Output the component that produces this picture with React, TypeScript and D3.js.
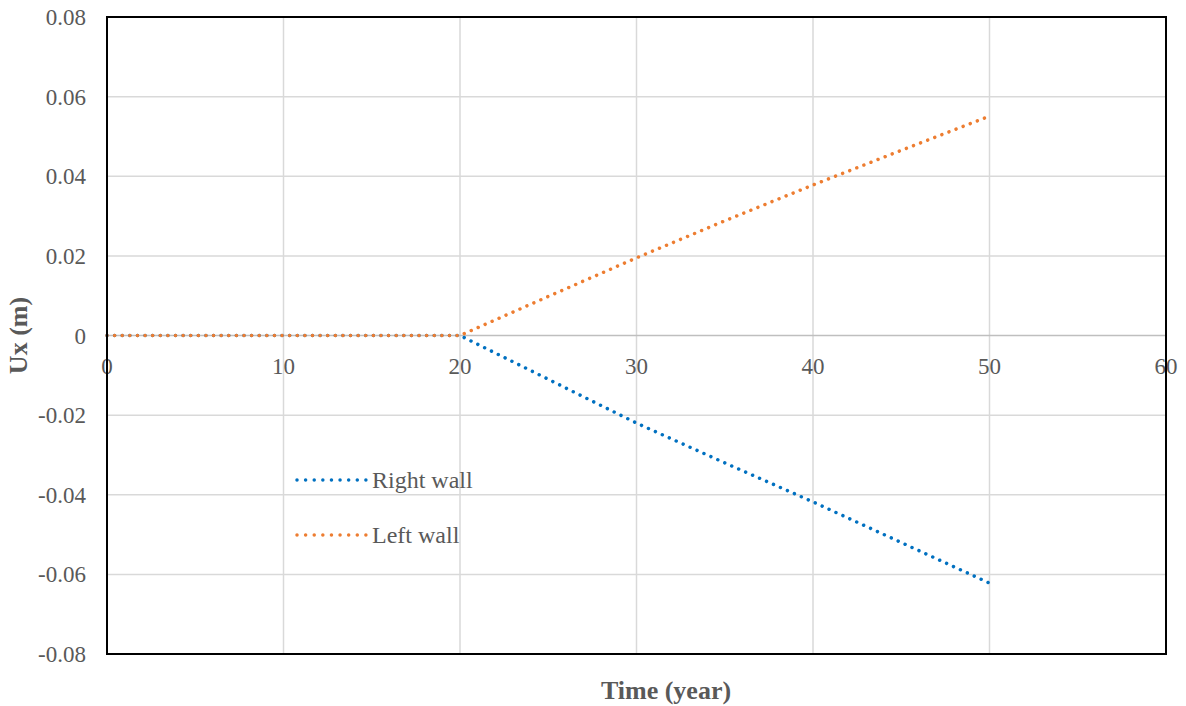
import { useEffect, useRef } from "react";
import * as d3 from "d3";

// time in years
const times = [0, 5, 10, 15, 20, 25, 30, 35, 40, 45, 50];
const rightWall = [0, 0, 0, 0, 0, -0.011, -0.022, -0.032, -0.0418, -0.052, -0.0622];
const leftWall = [0, 0, 0, 0, 0, 0.0098, 0.0195, 0.0288, 0.0378, 0.0465, 0.0551];
const xTicks = [0, 10, 20, 30, 40, 50, 60];
const yTicks = [-0.08, -0.06, -0.04, -0.02, 0, 0.02, 0.04, 0.06, 0.08];
const seriesNames = ["Right wall", "Left wall"];
const seriesColors = ["#0070C0", "#ED7D31"];

const W = 1186;
const H = 706;
const FONT = "'Liberation Serif', 'Times New Roman', serif";

export default function App() {
  const svgRef = useRef<SVGSVGElement | null>(null);

  useEffect(() => {
    const svgEl = svgRef.current;
    if (!svgEl) return;
    const svg = d3.select(svgEl);
    svg.selectAll("*").remove();

    const margin = { top: 17, right: 20, bottom: 52, left: 107 };
    const x = d3.scaleLinear().domain([0, 60]).range([margin.left, W - margin.right]);
    const y = d3.scaleLinear().domain([-0.08, 0.08]).range([H - margin.bottom, margin.top]);

    svg.append("rect").attr("width", W).attr("height", H).attr("fill", "#fff");

    // gridlines
    const grid = svg.append("g");
    grid
      .selectAll("line.v")
      .data(xTicks)
      .enter()
      .append("line")
      .attr("x1", (d) => x(d))
      .attr("x2", (d) => x(d))
      .attr("y1", y(0.08))
      .attr("y2", y(-0.08))
      .attr("stroke", "#d9d9d9")
      .attr("stroke-width", 1.5);
    grid
      .selectAll("line.h")
      .data(yTicks)
      .enter()
      .append("line")
      .attr("x1", x(0))
      .attr("x2", x(60))
      .attr("y1", (d) => y(d))
      .attr("y2", (d) => y(d))
      .attr("stroke", (d) => (d === 0 ? "#bfbfbf" : "#d9d9d9"))
      .attr("stroke-width", 1.5);

    // y tick labels
    svg
      .append("g")
      .selectAll("text")
      .data(yTicks)
      .enter()
      .append("text")
      .attr("x", 86)
      .attr("y", (d) => y(d))
      .attr("dy", "0.35em")
      .attr("text-anchor", "end")
      .attr("font-family", FONT)
      .attr("font-size", 23)
      .attr("fill", "#595959")
      .text((d) => (d === 0 ? "0" : d3.format(".2f")(d).replace("−", "-")));

    // lines
    const series = [rightWall, leftWall];
    const line = d3
      .line<number>()
      .x((_, i) => x(times[i]))
      .y((d) => y(d));
    series.forEach((vals, k) => {
      svg
        .append("path")
        .datum(vals)
        .attr("fill", "none")
        .attr("stroke", seriesColors[k])
        .attr("stroke-width", 3.5)
        .attr("stroke-linecap", "round")
        .attr("stroke-dasharray", "0.01 7.6")
        .attr("d", line);
    });

    // x tick labels below zero line
    svg
      .append("g")
      .selectAll("text")
      .data(xTicks)
      .enter()
      .append("text")
      .attr("x", (d) => x(d))
      .attr("y", y(0) + 38)
      .attr("text-anchor", "middle")
      .attr("font-family", FONT)
      .attr("font-size", 23)
      .attr("fill", "#595959")
      .text((d) => d);

    // plot border
    svg
      .append("rect")
      .attr("x", x(0))
      .attr("y", y(0.08))
      .attr("width", x(60) - x(0))
      .attr("height", y(-0.08) - y(0.08))
      .attr("fill", "none")
      .attr("stroke", "#000")
      .attr("stroke-width", 2);

    // legend
    const legend = svg.append("g");
    seriesNames.forEach((name, k) => {
      const ly = 480 + k * 55;
      legend
        .append("line")
        .attr("x1", 297)
        .attr("x2", 366)
        .attr("y1", ly)
        .attr("y2", ly)
        .attr("stroke", seriesColors[k])
        .attr("stroke-width", 3.5)
        .attr("stroke-linecap", "round")
        .attr("stroke-dasharray", "0.01 8.6");
      legend
        .append("text")
        .attr("x", 372)
        .attr("y", ly)
        .attr("dy", "0.35em")
        .attr("font-family", FONT)
        .attr("font-size", 24)
        .attr("fill", "#595959")
        .text(name);
    });

    // axis titles
    svg
      .append("text")
      .attr("x", 666)
      .attr("y", 699)
      .attr("text-anchor", "middle")
      .attr("font-family", FONT)
      .attr("font-size", 26)
      .attr("font-weight", "bold")
      .attr("fill", "#595959")
      .text("Time (year)");
    svg
      .append("text")
      .attr("transform", `translate(27, ${y(0)}) rotate(-90)`)
      .attr("text-anchor", "middle")
      .attr("font-family", FONT)
      .attr("font-size", 26)
      .attr("font-weight", "bold")
      .attr("fill", "#595959")
      .text("Ux (m)");
  }, []);

  return (
    <svg
      ref={svgRef}
      width={W}
      height={H}
      style={{ position: "absolute", left: 0, top: 0, display: "block" }}
    />
  );
}
